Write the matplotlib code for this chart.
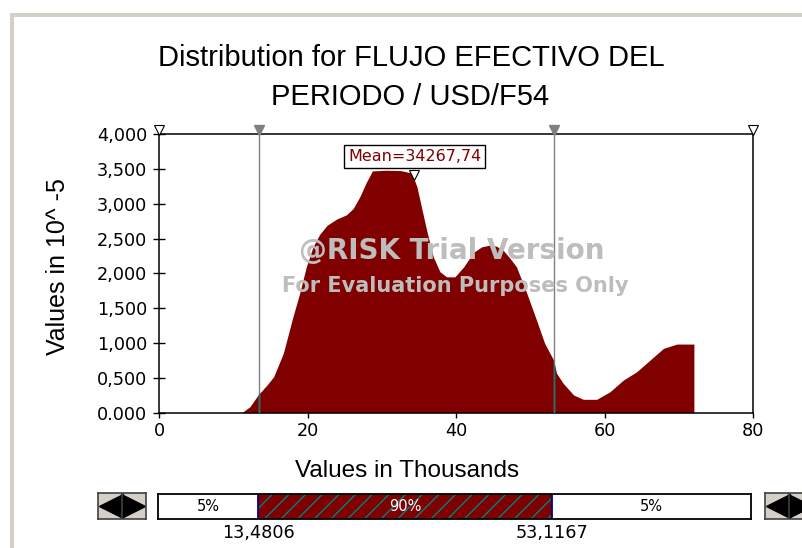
import numpy as np
import matplotlib
matplotlib.use("Agg")
import matplotlib.pyplot as plt
from matplotlib.patches import Rectangle
from matplotlib.transforms import ScaledTranslation

# Distribution (x en milliers USD, densité en 10^-5)
x_vals = [11.1, 12.2, 13.3, 14.5, 15.4, 16.7, 18.0, 18.9, 19.8, 20.7, 21.6, 22.6,
          23.9, 25.2, 26.1, 27.0, 27.9, 28.7, 30.5, 32.5, 34.0, 34.7, 35.3, 36.0,
          36.9, 37.8, 38.7, 39.8, 41.0, 42.3, 43.4, 44.5, 45.4, 46.3, 47.2, 48.1,
          49.5, 50.8, 51.9, 53.1, 53.5, 54.4, 55.8, 57.1, 58.9, 60.7, 62.5, 64.3,
          66.1, 67.9, 69.7, 72.0, 72.0]
density = [0, 86, 254, 397, 516, 852, 1377, 1712, 2094, 2380, 2560, 2690,
           2780, 2840, 2930, 3098, 3310, 3470, 3480, 3475, 3440, 3241, 2954, 2620,
           2237, 2022, 1950, 1950, 2094, 2300, 2380, 2405, 2390, 2333, 2220, 2094,
           1712, 1329, 995, 756, 565, 421, 254, 192, 192, 301, 469, 588,
           756, 923, 985, 985, 0]

p5 = 13.4806
p95 = 53.1167
mean_val = 34.26774
mean_height = 3470

x_ticks = [0, 20, 40, 60, 80]
y_ticks = [0, 500, 1000, 1500, 2000, 2500, 3000, 3500, 4000]
y_tick_labels = ["0.000", "0,500", "1,000", "1,500", "2,000", "2,500", "3,000", "3,500", "4,000"]
band_labels = ["5%", "90%", "5%"]

MAROON = "#800000"
GRIS_WIN = "#d4d0c8"
TEAL = "#008080"

W, H = 802, 548
fig = plt.figure(figsize=(W / 100, H / 100), dpi=100)
fig.patch.set_facecolor("white")


def fx(px):
    return px / W


def fy(py):
    return 1 - py / H


# cadre gris style fenêtre
fig.add_artist(Rectangle((fx(10), 0), fx(4), fy(13), transform=fig.transFigure,
                         facecolor=GRIS_WIN, edgecolor="none"))
fig.add_artist(Rectangle((fx(10), fy(17)), 1, 4 / H, transform=fig.transFigure,
                         facecolor=GRIS_WIN, edgecolor="none"))

# Titre
fig.text(fx(411), fy(66), "Distribution for FLUJO EFECTIVO DEL", ha="center", va="baseline",
         family="Liberation Sans", fontsize=21)
fig.text(fx(410), fy(105), "PERIODO / USD/F54", ha="center", va="baseline",
         family="Liberation Sans", fontsize=21)

# Axe principal
ax = fig.add_axes([fx(159.3), fy(412.7), (753.3 - 159.3) / W, (412.7 - 134) / H])
ax.set_xlim(0, 80)
ax.set_ylim(0, 4000)
ax.set_xticks(x_ticks)
ax.set_yticks(y_ticks)
ax.set_yticklabels(y_tick_labels)
ax.tick_params(axis="y", direction="inout", length=8.6, width=1, pad=4.5, labelsize=12.7)
ax.tick_params(axis="x", direction="out", length=3.6, width=1, pad=3, labelsize=12.7)
for s in ax.spines.values():
    s.set_linewidth(1.1)
    s.set_color("black")

poly = ax.fill_between(x_vals, density, 0, color=MAROON, linewidth=0, zorder=2)

# lignes des percentiles
for p in [p5, p95]:
    ax.axvline(p, color="#808080", linewidth=1, zorder=3)
    l = ax.axvline(p, color=TEAL, linewidth=1, zorder=4)
    l.set_clip_path(poly.get_paths()[0], ax.transData)

# triangles en haut
down = ScaledTranslation(0, 4 / 100, fig.dpi_scale_trans)
ax.plot([p5, p95], [4000, 4000], marker="v", linestyle="none", markersize=7,
        color="#808080", transform=ax.transData + down, clip_on=False, zorder=5)
ax.plot([0, 80], [4000, 4000], marker="v", linestyle="none", markersize=7,
        markerfacecolor="white", markeredgecolor="black", markeredgewidth=0.8,
        transform=ax.transData + down, clip_on=False, zorder=5)

# moyenne
mdown = ScaledTranslation(0, -4 / 100, fig.dpi_scale_trans)
ax.plot([mean_val], [mean_height], marker="v", linestyle="none", markersize=7,
        markerfacecolor="white", markeredgecolor="black", markeredgewidth=0.8,
        transform=ax.transData + mdown, zorder=6)
ax.annotate("Mean=" + f"{mean_val * 1000:.2f}".replace(".", ","), xy=(mean_val, mean_height),
            xytext=(1, 14), textcoords="offset pixels", ha="center", va="center",
            fontsize=11.5, color=MAROON, zorder=7,
            bbox=dict(boxstyle="square,pad=0.25", facecolor="white", edgecolor="black", linewidth=1))

# filigrane
ax.text(0.492, 0.58, "@RISK Trial Version", transform=ax.transAxes, ha="center", va="center",
        fontsize=20, fontweight="bold", color="#bdbdbd", zorder=8)
ax.text(0.499, 0.455, "For Evaluation Purposes Only", transform=ax.transAxes, ha="center",
        va="center", fontsize=15, fontweight="bold", color="#bdbdbd", zorder=8)

# étiquettes d'axes
fig.text(fx(58), fy(267), "Values in 10^ -5", rotation=90, ha="center", va="center",
         family="Liberation Sans", fontsize=18)
fig.text(fx(407), fy(471), "Values in Thousands", ha="center", va="center",
         family="Liberation Sans", fontsize=17.5)

# barre des percentiles
bx = fig.add_axes([fx(158.3), fy(519), (751 - 158.3) / W, 25 / H])
bx.set_xlim(0, 80)
bx.set_ylim(0, 1)
bx.set_xticks([])
bx.set_yticks([])
bx.set_facecolor("white")
for s in bx.spines.values():
    s.set_linewidth(1.3)
plt.rcParams["hatch.linewidth"] = 1.0
bx.add_patch(Rectangle((p5, 0), p95 - p5, 1, facecolor=MAROON, edgecolor=TEAL,
                       hatch="//", linewidth=0))
bx.axvline(p5, color="#000080", linewidth=1.3)
bx.axvline(p95, color="#000080", linewidth=1.3)
edges = [0, p5, p95, 80]
for i, lab in enumerate(band_labels):
    bx.text((edges[i] + edges[i + 1]) / 2, 0.5, lab, ha="center", va="center", fontsize=10.5,
            color="white" if i == 1 else "black")
for p in [p5, p95]:
    bx.text(p, -0.55, f"{p:.4f}".replace(".", ","), ha="center", va="center", fontsize=12.7)


# boutons flèches
def bouton(left):
    b = fig.add_axes([fx(left), fy(519), 48 / W, 26 / H])
    b.set_xlim(0, 2)
    b.set_ylim(0, 1)
    b.set_xticks([])
    b.set_yticks([])
    b.set_facecolor(GRIS_WIN)
    for s in b.spines.values():
        s.set_color("#404040")
        s.set_linewidth(1.2)
    b.plot([0.55], [0.5], marker="<", markersize=17, color="black")
    b.plot([1.45], [0.5], marker=">", markersize=17, color="black")
    b.axvline(1, color="#404040", linewidth=1.2)


bouton(98)
bouton(765)

plt.savefig("out.png", dpi=100)
